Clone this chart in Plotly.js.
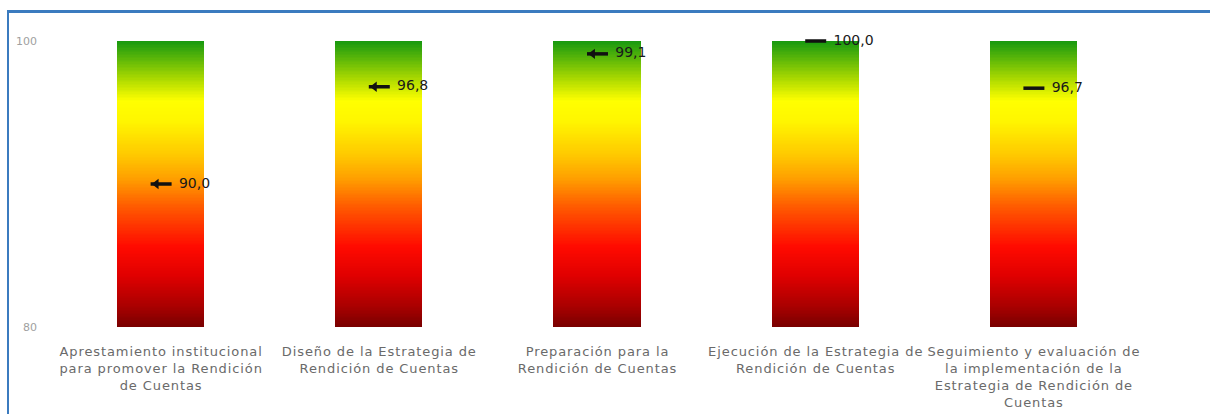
<!DOCTYPE html>
<html>
<head>
<meta charset="utf-8">
<script src="https://cdn.plot.ly/plotly-3.0.1.min.js"></script>
<style>
  html, body { margin: 0; padding: 0; background: #fff; }
  #wrap { position: relative; width: 1210px; height: 414px; overflow: hidden; }
  #chart { position: absolute; left: 0; top: 0; width: 1210px; height: 414px; }
  #chart .xtick text { letter-spacing: 0.9px; }
  #frame { position: absolute; left: 7px; top: 10px; width: 1400px; height: 600px;
           border-top: 3px solid #3b7bbf; border-left: 2px solid #3b7bbf; pointer-events: none; }
</style>
</head>
<body>
<div id="wrap"><div id="chart"></div><div id="frame"></div></div>
<script>
// ---- data ----
const categories = [
  "Aprestamiento institucional<br>para promover la Rendición<br>de Cuentas",
  "Diseño de la Estrategia de<br>Rendición de Cuentas",
  "Preparación para la<br>Rendición de Cuentas",
  "Ejecución de la Estrategia de<br>Rendición de Cuentas",
  "Seguimiento y evaluación de<br>la implementación de la<br>Estrategia de Rendición de<br>Cuentas"
];
const values = [90.0, 96.8, 99.1, 100.0, 96.7];
const valueLabels = ["90,0", "96,8", "99,1", "100,0", "96,7"];
const barTop = [100, 100, 100, 100, 100];
const axisMin = 80;
const axisMax = 100;
const withArrow = [true, true, true, false, false];
const yTickVals = [80, 100];
const yTickText = ["80", "100"];

// ---- gradient bars (heatmap bricks) ----
const xIdx = categories.map((_, i) => i);
const steps = 200;
const levels = [];
for (let k = 0; k < steps; k++) levels.push(axisMin + (k + 0.5) * (axisMax - axisMin) / steps);
const z = levels.map(l => barTop.map(t => (l <= t ? l : null)));

const colorscale = [
  [0.00, '#780000'],
  [0.07, '#a80000'],
  [0.18, '#e00000'],
  [0.28, '#ff0a00'],
  [0.42, '#ff5a00'],
  [0.52, '#ffa000'],
  [0.60, '#ffc800'],
  [0.72, '#fff600'],
  [0.79, '#ffff00'],
  [0.87, '#a8d800'],
  [1.00, '#169810']
];

const bars = {
  type: 'heatmap',
  x: xIdx, y: levels, z: z,
  zmin: axisMin, zmax: axisMax,
  colorscale: colorscale, showscale: false,
  xgap: 131, ygap: 0, zsmooth: false,
  hoverinfo: 'skip'
};

// ---- markers ----
const tails = {
  type: 'scatter', mode: 'markers',
  x: xIdx, y: values,
  marker: { symbol: 'line-ew', size: 15, line: { width: 3.5, color: '#111' } },
  cliponaxis: false, hoverinfo: 'skip', showlegend: false
};
const heads = {
  type: 'scatter', mode: 'markers',
  x: xIdx.filter(i => withArrow[i]).map(i => i - 0.022),
  y: values.filter((v, i) => withArrow[i]),
  marker: { symbol: 'triangle-left', size: 9, color: '#111' },
  cliponaxis: false, hoverinfo: 'skip', showlegend: false
};
const labels = {
  type: 'scatter', mode: 'text',
  x: xIdx, y: values,
  text: valueLabels.map(t => '    ' + t),
  textposition: 'middle right',
  textfont: { family: 'DejaVu Sans, Arial, sans-serif', size: 14, color: '#1a1a1a' },
  cliponaxis: false, hoverinfo: 'skip', showlegend: false
};

const layout = {
  width: 1210, height: 414,
  margin: { l: 52, r: 67, t: 41, b: 87 },
  paper_bgcolor: '#ffffff', plot_bgcolor: '#ffffff',
  showlegend: false,
  xaxis: {
    range: [-0.5, categories.length - 0.5],
    tickvals: xIdx, ticktext: categories,
    tickangle: 0,
    showgrid: false, zeroline: false, showline: false, ticks: '',
    ticklabelstandoff: 15,
    tickfont: { family: 'DejaVu Sans, Arial, sans-serif', size: 13, color: '#6a6a6a' }
  },
  yaxis: {
    range: [axisMin, axisMax],
    tickvals: yTickVals, ticktext: yTickText,
    showgrid: true, gridcolor: '#eeeeee', gridwidth: 1,
    zeroline: false, showline: false, ticks: '',
    ticklabelstandoff: 14,
    tickfont: { family: 'DejaVu Sans, Arial, sans-serif', size: 11, color: '#a0a0a0' }
  }
};

Plotly.newPlot('chart', [bars, tails, heads, labels], layout, { staticPlot: true, displayModeBar: false });
</script>
</body>
</html>
